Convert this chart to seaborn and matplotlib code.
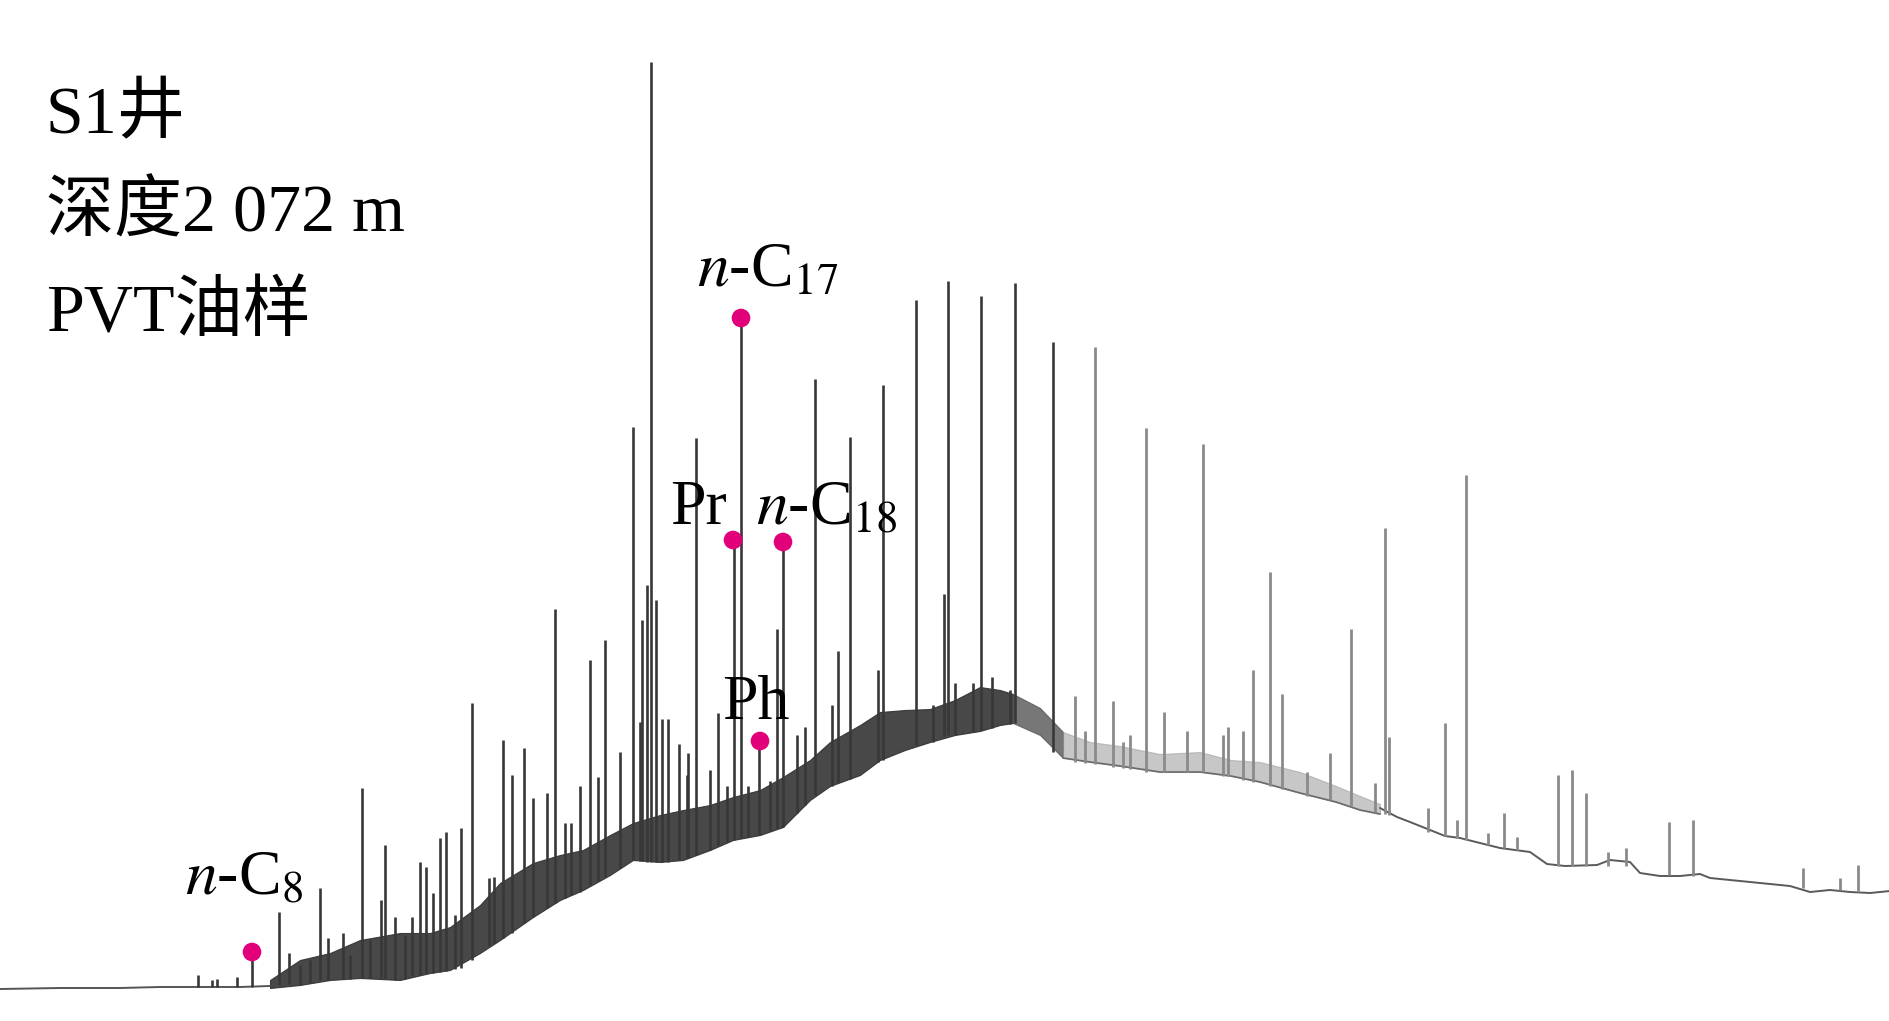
import numpy as np
import pandas as pd
import matplotlib.pyplot as plt
import seaborn as sns

# Gaschromatogram, S1 brunn. x = retentionstid (skanning), y = signal (godtycklig enhet)

# platt start och svans (enkel linje)
front_rt = [0, 60, 120, 160, 200, 240, 270]
front_sig = [11, 12, 12, 13, 13, 13, 14]
tail_rt = [1380, 1397, 1410, 1430, 1445, 1460, 1480, 1500, 1530, 1547, 1565, 1597, 1610, 1630,
           1640, 1660, 1680, 1700, 1710, 1730, 1760, 1790, 1810, 1830, 1850, 1870, 1890]
tail_sig = [192, 183, 178, 170, 164, 162, 157, 152, 148, 136, 134, 135, 140, 138,
            127, 124, 124, 126, 122, 120, 117, 114, 108, 110, 108, 107, 109]

# UCM-puckeln (brusband, undre/övre kant)
band_rt = [270, 300, 330, 360, 400, 430, 450, 480, 500, 533, 560, 583, 610, 633, 660, 683, 710,
           733, 760, 783, 810, 830, 860, 880, 905, 930, 955, 980, 1000, 1013, 1040, 1063, 1090,
           1120, 1160, 1200, 1231, 1260, 1300, 1336, 1360, 1380]
band_lo = [12, 15, 20, 22, 20, 27, 30, 47, 60, 83, 100, 110, 125, 140, 138, 140, 150,
           160, 165, 173, 200, 214, 225, 240, 250, 258, 265, 269, 275, 277, 265, 242, 238,
           234, 228, 228, 224, 218, 207, 198, 190, 186]
band_hi = [20, 40, 47, 60, 67, 67, 73, 95, 117, 137, 145, 150, 165, 177, 185, 190, 195,
           203, 210, 223, 240, 258, 275, 288, 290, 291, 300, 313, 310, 306, 292, 268, 258,
           254, 246, 248, 240, 238, 228, 214, 204, 196]

# toppar: läge, topp, fot
peak_rt = [198, 212, 217, 237, 252, 279, 289, 300, 310, 320, 328, 343, 350, 362, 370, 381, 385,
           395, 405, 412, 420, 426, 433, 440, 446, 455, 461, 472, 489, 494, 503, 512, 524, 533,
           547, 555, 565, 571, 580, 590, 598, 605, 620, 633, 640, 642, 647, 651, 656, 662, 668,
           679, 687, 688, 696, 710, 718, 727, 734, 741, 748, 759, 770, 777, 783, 797, 805, 815,
           832, 838, 850, 878, 883, 916, 933, 944, 948, 955, 973, 981, 992, 1010, 1015, 1053,
           1075, 1085, 1095, 1113, 1123, 1130, 1146, 1164, 1187, 1203, 1223, 1228, 1243, 1253,
           1270, 1282, 1307, 1330, 1351, 1375, 1385, 1389, 1428, 1445, 1457, 1466, 1488, 1504,
           1517, 1558, 1572, 1586, 1608, 1626, 1669, 1693, 1803, 1840, 1858]
peak_top = [25, 20, 21, 23, 48, 88, 47, 35, 40, 112, 62, 67, 45, 212, 60, 100, 155,
            83, 65, 83, 138, 133, 107, 162, 168, 85, 172, 297, 122, 123, 260, 225, 252, 202,
            207, 391, 177, 177, 214, 340, 223, 360, 248, 573, 278, 380, 415, 938, 400, 281, 281,
            256, 225, 247, 562, 230, 287, 214, 460, 682, 214, 259, 219, 371, 458, 265, 273, 621,
            295, 349, 563, 330, 615, 700, 295, 406, 719, 317, 317, 704, 323, 310, 717, 658,
            304, 269, 653, 299, 258, 265, 572, 288, 269, 556, 265, 273, 269, 330,
            428, 306, 228, 247, 371, 217, 472, 263, 192, 277, 180, 525, 167, 187,
            163, 225, 230, 207, 148, 152, 178, 180, 132, 122, 135]
peak_base = [13, 13, 13, 13, 13, 15, 16, 15, 17, 20, 20, 21, 21, 22, 22, 21, 21,
             20, 21, 24, 25, 26, 27, 28, 29, 31, 32, 40, 54, 57, 62, 67, 77, 83,
             92, 97, 102, 105, 108, 115, 119, 123, 132, 140, 139, 139, 138, 138, 138, 138, 138,
             140, 142, 142, 145, 150, 155, 158, 160, 162, 163, 165, 169, 172, 173, 187, 195, 205,
             214, 218, 221, 238, 240, 255, 258, 264, 265, 265, 268, 270, 272, 276, 277, 248,
             238, 237, 236, 233, 232, 231, 228, 228, 228, 228, 224, 224, 220, 218,
             214, 211, 204, 200, 194, 188, 186, 185, 168, 164, 162, 160, 155, 152,
             150, 134, 134, 134, 134, 134, 125, 124, 112, 110, 109]

# märkta föreningar
mark_name = ["$n$-C$_{8}$", "Pr", "$n$-C$_{17}$", "Ph", "$n$-C$_{18}$"]
mark_rt = [252, 733, 741, 760, 783]
mark_sig = [48, 460, 682, 259, 458]
label_rt = [185, 670, 697, 722, 756]
label_sig = [106, 476, 714, 281, 476]

info_lines = ["S1井", "深度2 072 m", "PVT油样"]

sns.set_theme(style="white")
plt.rcParams["font.family"] = ["Liberation Serif", "Noto Sans CJK SC", "DejaVu Sans"]
plt.rcParams["mathtext.fontset"] = "stix"

peaks = pd.DataFrame({"rt": peak_rt, "top": peak_top, "base": peak_base})
marks = pd.DataFrame({"rt": mark_rt, "sig": mark_sig})

fig = plt.figure(figsize=(18.9, 10.21), dpi=100)
ax = fig.add_axes([0, 0, 1, 1])

bx = np.array(band_rt)
ax.fill_between(bx, band_lo, band_hi, where=bx <= 1013, color="#2e2e2e", alpha=0.88, lw=0.8)
ax.fill_between(bx, band_lo, band_hi, where=(bx >= 1013) & (bx <= 1063), color="#555555",
                alpha=0.8, lw=0.8)
ax.fill_between(bx, band_lo, band_hi, where=bx >= 1063, color="#9a9a9a", alpha=0.55, lw=0.8)
ax.plot(bx[bx >= 1063], np.array(band_lo)[bx >= 1063], color="#6a6a6a", lw=1.2)

sns.lineplot(x=front_rt, y=front_sig, ax=ax, color="#555555", lw=1.4, estimator=None)
sns.lineplot(x=tail_rt, y=tail_sig, ax=ax, color="#5a5a5a", lw=1.4, estimator=None)

left = peaks[peaks["rt"] <= 1063]
right = peaks[peaks["rt"] > 1063]
ax.vlines(left["rt"], left["base"], left["top"], color="#383838", lw=1.9)
ax.vlines(right["rt"], right["base"], right["top"], color="#8a8a8a", lw=2.0)

sns.scatterplot(data=marks, x="rt", y="sig", ax=ax, color="#e2007a", s=180,
                edgecolor="none", zorder=5)

for name, x, y in zip(mark_name, label_rt, label_sig):
    ax.text(x, y, name, fontsize=46, color="black", ha="left", va="baseline")

for i, line in enumerate(info_lines):
    ax.text(46, 867 - i * 99, line, fontsize=49, color="black", ha="left", va="baseline")

ax.set_xlim(0, 1890)
ax.set_ylim(-21, 1000)
ax.axis("off")

fig.savefig("out.png", dpi=100)
plt.close(fig)
